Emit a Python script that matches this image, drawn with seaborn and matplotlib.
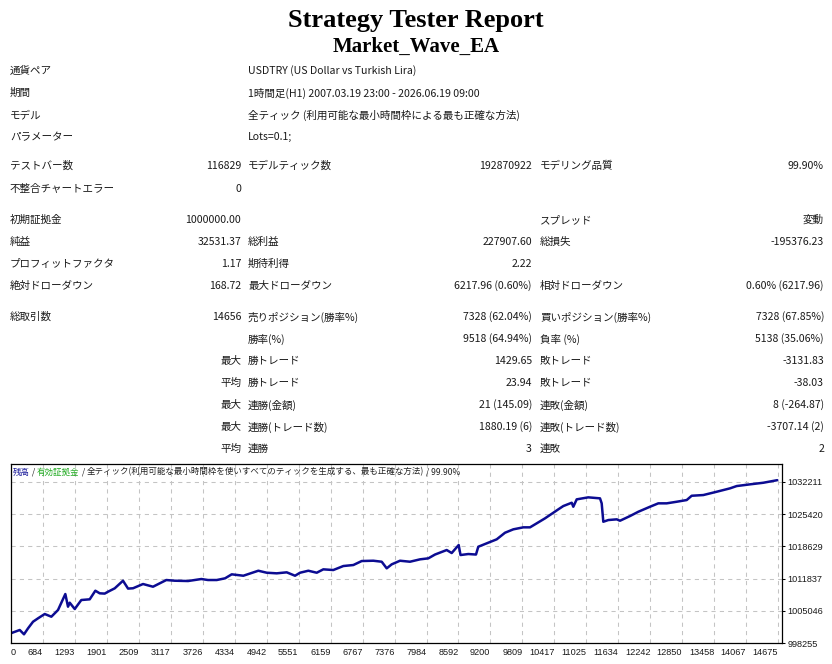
import numpy as np
import pandas as pd
import seaborn as sns
import matplotlib
matplotlib.use("Agg")
import matplotlib.pyplot as plt

# ---------------- data ----------------
report_title = "Strategy Tester Report"
ea_name = "Market_Wave_EA"

header_labels = ["通貨ペア", "期間", "モデル", "パラメーター"]
header_values = [
    "USDTRY (US Dollar vs Turkish Lira)",
    "1時間足(H1) 2007.03.19 23:00 - 2026.06.19 09:00",
    "全ティック (利用可能な最小時間枠による最も正確な方法)",
    "Lots=0.1;",
]

col1_labels = ["テストバー数", "不整合チャートエラー", "初期証拠金", "純益", "プロフィットファクタ",
               "絶対ドローダウン", "総取引数", "", "", "", "", "", ""]
col1_values = ["116829", "0", "1000000.00", "32531.37", "1.17", "168.72", "14656", "",
               "最大", "平均", "最大", "最大", "平均"]
col2_labels = ["モデルティック数", "", "", "総利益", "期待利得", "最大ドローダウン",
               "売りポジション(勝率%)", "勝率(%)", "勝トレード", "勝トレード", "連勝(金額)",
               "連勝(トレード数)", "連勝"]
col2_values = ["192870922", "", "", "227907.60", "2.22", "6217.96 (0.60%)", "7328 (62.04%)",
               "9518 (64.94%)", "1429.65", "23.94", "21 (145.09)", "1880.19 (6)", "3"]
col3_labels = ["モデリング品質", "", "スプレッド", "総損失", "", "相対ドローダウン",
               "買いポジション(勝率%)", "負率 (%)", "敗トレード", "敗トレード", "連敗(金額)",
               "連敗(トレード数)", "連敗"]
col3_values = ["99.90%", "", "変動", "-195376.23", "", "0.60% (6217.96)", "7328 (67.85%)",
               "5138 (35.06%)", "-3131.83", "-38.03", "8 (-264.87)", "-3707.14 (2)", "2"]

legend_parts = ["残高", " / ", "有効証拠金", " / ",
                "全ティック(利用可能な最小時間枠を使いすべてのティックを生成する、最も正確な方法)",
                " / 99.90%"]
legend_colors = ["#1a1a9a", "#222222", "#22aa22", "#222222", "#222222", "#222222"]

trade_index = [75, 247, 328, 405, 500, 595, 722, 848, 975, 1114, 1165, 1198, 1293, 1418, 1578,
               1685, 1768, 1863, 1926, 2054, 2211, 2307, 2402, 2592, 2782, 2910, 3035, 3195,
               3448, 3701, 3828, 3994, 4152, 4279, 4500, 4785, 4945, 5135, 5325, 5483, 5578,
               5736, 5896, 6021, 6211, 6402, 6592, 6752, 6972, 7132, 7227, 7322, 7480, 7670,
               7860, 8018, 8146, 8368, 8463, 8596, 8631, 8779, 8925, 8969, 9129, 9319, 9477,
               9635, 9825, 9953, 10080, 10238, 10396, 10491, 10586, 10746, 10776, 10841,
               11061, 11284, 11316, 11347, 11442, 11602, 11664, 11855, 12013, 12235, 12393,
               12552, 12743, 12933, 13028, 13249, 13503, 13757, 13884, 14137, 14390, 14656]
balance = [1000355, 1001048, 1000145, 1001406, 1002792, 1003506, 1004409, 1003842, 1005249,
           1008610, 1005943, 1006783, 1005460, 1007350, 1007497, 1009303, 1008757, 1008700,
           1009092, 1009806, 1011404, 1009750, 1009820, 1010711, 1010144, 1010858, 1011551,
           1011404, 1011341, 1011761, 1011551, 1011551, 1011907, 1012747, 1012453, 1013503,
           1013083, 1012957, 1013167, 1012453, 1013083, 1013503, 1013083, 1013795, 1013651,
           1014492, 1014702, 1015542, 1015605, 1015395, 1014005, 1014845, 1015605, 1015395,
           1015895, 1016105, 1016907, 1017852, 1017223, 1018903, 1016802, 1017012, 1016907,
           1018546, 1019260, 1020100, 1021487, 1022201, 1022621, 1022621, 1023461, 1024511,
           1025687, 1026402, 1027095, 1027788, 1026948, 1028502, 1028922, 1028712, 1027662,
           1023796, 1024154, 1024300, 1024006, 1024994, 1025897, 1026947, 1027662, 1027662,
           1027998, 1028355, 1029258, 1029405, 1030098, 1030813, 1031296, 1031653, 1031989,
           1032531]

x_tick_values = [684, 1293, 1901, 2509, 3117, 3726, 4334, 4942, 5551, 6159, 6767, 7376, 7984,
                 8592, 9200, 9809, 10417, 11025, 11634, 12242, 12850, 13458, 14067, 14675]
y_tick_values = [998255, 1005046, 1011837, 1018629, 1025420, 1032211]
x_limits = (75, 14740)
y_limits = (998255, 1035866)

# ---------------- style ----------------
sns.set_style("white")
plt.rcParams["font.family"] = ["Noto Sans CJK JP", "DejaVu Sans"]
TXT = "#1a1a1a"

W, H = 832, 664
fig = plt.figure(figsize=(W / 100, H / 100), dpi=100)


def fx(px):
    return px / W


def fy(py):
    return 1 - py / H


fig.text(0.5, fy(21), report_title, ha="center", va="center",
         family="Liberation Serif", weight="bold", size=19, color="black")
fig.text(0.5, fy(47), ea_name, ha="center", va="center",
         family="Liberation Serif", weight="bold", size=15, color="black")

FS = 7.6
header_rows_y = [71, 93, 115, 137]
for lab, val, yy in zip(header_labels, header_values, header_rows_y):
    fig.text(fx(10), fy(yy), lab, ha="left", va="center", size=FS, color=TXT)
    fig.text(fx(248), fy(yy), val, ha="left", va="center", size=FS, color=TXT)

stat_rows_y = [166, 189, 220, 242, 264, 286, 317, 339, 361, 383, 405, 427, 449]
for i, yy in enumerate(stat_rows_y):
    fig.text(fx(10), fy(yy), col1_labels[i], ha="left", va="center", size=FS, color=TXT)
    fig.text(fx(241), fy(yy), col1_values[i], ha="right", va="center", size=FS, color=TXT)
    fig.text(fx(248), fy(yy), col2_labels[i], ha="left", va="center", size=FS, color=TXT)
    fig.text(fx(532), fy(yy), col2_values[i], ha="right", va="center", size=FS, color=TXT)
    fig.text(fx(540), fy(yy), col3_labels[i], ha="left", va="center", size=FS, color=TXT)
    fig.text(fx(824), fy(yy), col3_values[i], ha="right", va="center", size=FS, color=TXT)

# ---------------- chart ----------------
left, right, top, bottom = 10.7, 781.7, 464.3, 643.3
ax = fig.add_axes([fx(left), fy(bottom), (right - left) / W, (bottom - top) / H])

df = pd.DataFrame({"trade": trade_index, "balance": balance})
sns.lineplot(data=df, x="trade", y="balance", ax=ax, color="#0c0c92",
             linewidth=1.8, estimator=None, sort=False)

ax.set_xlim(*x_limits)
ax.set_ylim(*y_limits)
ax.set_xlabel("")
ax.set_ylabel("")

ax.yaxis.tick_right()
ax.tick_params(axis="y", which="both", direction="out", length=2.5, width=0.75,
               pad=1.5, colors="black", labelcolor=TXT, left=False, right=True,
               labelleft=False, labelright=True, labelsize=6.6)
ax.tick_params(axis="x", which="both", direction="out", length=2.5, width=0.75,
               pad=1.0, colors="black", labelcolor=TXT, labelsize=6.6)

ax.set_xticks([x_limits[0]] + x_tick_values)
ax.set_xticklabels(["0"] + [str(v) for v in x_tick_values],
                   fontfamily="Liberation Sans", fontsize=6.6, color=TXT)
for i, t in enumerate(ax.get_xticklabels()):
    t.set_ha("left" if i == 0 else "right")

ax.set_yticks(y_tick_values)
ax.set_yticklabels([str(v) for v in y_tick_values],
                   fontfamily="Liberation Sans", fontsize=6.6, color=TXT)
for tk in ax.yaxis.get_major_ticks():
    tk.label2.set_fontfamily("Liberation Sans")
    tk.label2.set_fontsize(6.6)

ax.grid(True, color="#c4c4c4", linestyle=(0, (4, 4)), linewidth=0.75)
for s in ax.spines.values():
    s.set_visible(True)
    s.set_color("black")
    s.set_linewidth(0.9)

# legend text inside top-left of chart
prev = ax.text((13 - left) / (right - left), (bottom - 472) / (bottom - top),
               legend_parts[0], transform=ax.transAxes, ha="left", va="center",
               size=6.1, color=legend_colors[0])
for part, col in zip(legend_parts[1:], legend_colors[1:]):
    prev = ax.annotate(part, xy=(1, 0), xycoords=prev, ha="left", va="bottom",
                       size=6.1, color=col)

fig.savefig("out.png", dpi=100)
